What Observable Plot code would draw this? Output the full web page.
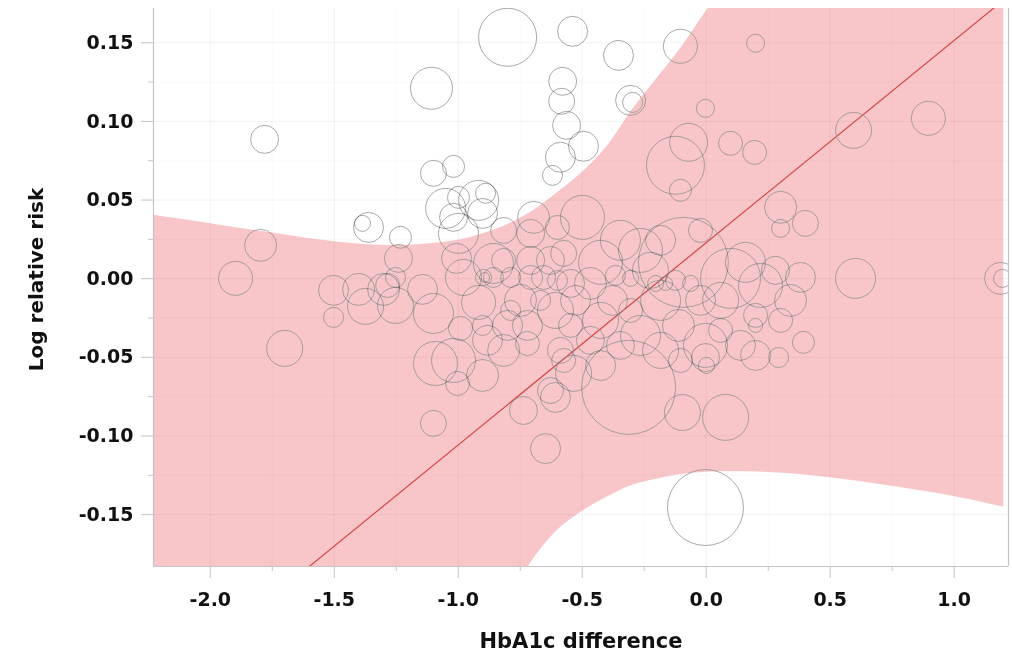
<!DOCTYPE html>
<html>
<head>
<meta charset="utf-8">
<script src="https://cdn.jsdelivr.net/npm/d3@7"></script>
<script src="https://cdn.jsdelivr.net/npm/@observablehq/plot@0.6"></script>
<style>
  html, body { margin: 0; padding: 0; background: #fff; }
  #chart svg text { font-weight: bold; }
</style>
</head>
<body>
<div id="chart"></div>
<script>
// ---- axis setup (data units) ----
const xDomain = [-2.229, 1.219];
const yDomain = [-0.183, 0.1718];
const xTicks = [-2.0, -1.5, -1.0, -0.5, 0.0, 0.5, 1.0];
const xMinor = [-1.75, -1.25, -0.75, -0.25, 0.25, 0.75];
const yTicks = [-0.15, -0.10, -0.05, 0.00, 0.05, 0.10, 0.15];
const yMinor = [-0.125, -0.075, -0.025, 0.025, 0.075, 0.125];
const xLabel = "HbA1c difference";
const yLabel = "Log relative risk";

// ---- regression line (endpoints) ----
const fitX = [-2.229, 1.219];
const fitY = [-0.2638, 0.1797];

// ---- confidence band ----
const bandX  = [-2.229, -2.0, -1.75, -1.5, -1.25, -1.0, -0.9, -0.8, -0.7, -0.6, -0.5, -0.4, -0.3, -0.2, -0.1, 0.0, 0.25, 0.5, 0.75, 1.0, 1.2];
const bandHi = [0.0403, 0.0350, 0.0290, 0.0235, 0.0211, 0.0245, 0.0285, 0.0344, 0.0430, 0.0547, 0.0675, 0.0840, 0.1070, 0.1270, 0.1470, 0.1700, 0.225, 0.28, 0.335, 0.39, 0.43];
const bandLo = [-0.56, -0.50, -0.43, -0.37, -0.31, -0.255, -0.23, -0.205, -0.179, -0.160, -0.148, -0.139, -0.1315, -0.1275, -0.1245, -0.1230, -0.1232, -0.1265, -0.1320, -0.1385, -0.1453];

// ---- studies: HbA1c difference, log relative risk, weight ----
const studyX = [
  -0.801, -0.539, -0.354, -0.104, 0.199, -1.108, -0.579, -0.583, -0.305, -0.297,
  -0.003, -0.563, -0.495, -0.588, -0.620, -1.781, -1.100, -1.019, 0.594, 0.896,
  -0.071, 0.098, 0.195, -0.124, -0.104, 0.300, 0.400, 0.300, -1.051, -0.999,
  -0.890, -0.918, -1.019, -0.902, -0.999, -1.386, -1.362, -1.233, -1.797, -0.817,
  -0.696, -0.708, -0.600, -1.241, -1.898,
  0.602, 1.187, 1.195,
  0.392, 0.292, 0.199, 0.078, -0.096, -0.313, -0.003, -0.648, -0.737, -1.100,
  -1.700, -0.608, -0.628, -0.535, -0.575,
  -1.503, -1.503, -1.402, -1.374, -1.301, -1.253, -1.253, -1.285, -1.144, -1.100,
  -1.092, -1.019, -1.003, -0.991, -0.979, -0.902, -0.898, -0.894, -0.918, -0.902,
  -0.882, -0.817, -0.801, -0.721, -0.721, -0.858, -0.789, -0.708, -0.656, -0.600,
  -0.547, -0.708, -0.817, -0.628, -0.575, -0.858, -1.007,
  -0.092, 0.098, 0.158, 0.219, 0.279, 0.340, 0.380, 0.300, 0.199, 0.199,
  0.058, -0.023, -0.003, -0.003, 0.001, -0.112, -0.184, -0.225, -0.265, -0.346,
  -0.426, -0.467, -0.378, -0.305, -0.426, -0.527, -0.265, -0.346, -0.184, -0.104,
  -0.467, -0.547, -0.608, -0.588, -0.426, -0.204, -0.164, -0.124, -0.063, 0.058,
  0.138, -0.184, -0.023, -0.366, -0.305, -0.668, -0.749, -0.789,
  -0.499
];
const studyY = [
  0.1535, 0.1573, 0.1420, 0.1478, 0.1497, 0.1211, 0.1255, 0.1128, 0.1134, 0.1121,
  0.1083, 0.0975, 0.0842, 0.0772, 0.0657, 0.0886, 0.0670, 0.0714, 0.0943, 0.1020,
  0.0867, 0.0861, 0.0803, 0.0721, 0.0562, 0.0454, 0.0352, 0.0320, 0.0447, 0.0517,
  0.0543, 0.0498, 0.0390, 0.0415, 0.0288, 0.0352, 0.0326, 0.0263, 0.0212, 0.0307,
  0.0390, 0.0288, 0.0326, 0.0129, 0.0002,
  0.0002, 0.0002, 0.0002,
  -0.0405, -0.0501, -0.0488, -0.0882, -0.0851, -0.0691, -0.1455, -0.1080, -0.0838, -0.0920,
  -0.0443, -0.0755, -0.0711, -0.0602, -0.0520,
  -0.0074, -0.0246, -0.0068, -0.0176, -0.0068, 0.0008, -0.0170, -0.0043, -0.0068, -0.0221,
  -0.0539, -0.0520, -0.0666, -0.0316, 0.0008, -0.0615, 0.0008, 0.0008, -0.0151, -0.0297,
  -0.0392, -0.0456, -0.0297, -0.0297, -0.0412, 0.0008, 0.0008, 0.0008, 0.0008, -0.0011,
  -0.0030, 0.0116, 0.0116, 0.0116, 0.0161, 0.0097, 0.0129,
  0.0104, 0.0002, 0.0104, -0.0043, 0.0053, -0.0138, 0.0008, -0.0265, -0.0233, -0.0297,
  -0.0138, -0.0138, -0.0424, -0.0501, -0.0552, -0.0297, -0.0138, 0.0053, 0.0180, 0.0244,
  0.0104, -0.0030, -0.0138, -0.0202, -0.0265, -0.0138, -0.0361, -0.0424, -0.0456, -0.0520,
  -0.0392, -0.0297, -0.0202, -0.0456, -0.0552, -0.0030, -0.0030, -0.0011, -0.0030, -0.0329,
  -0.0424, 0.0244, 0.0307, 0.0021, 0.0002, -0.0138, -0.0138, -0.0202,
  0.0390
];
const studyW = [
  841, 225, 225, 289, 81, 441, 196, 169, 225, 100,
  81, 196, 225, 225, 100, 196, 169, 121, 324, 289,
  361, 144, 144, 841, 121, 256, 169, 81, 400, 121,
  100, 400, 196, 225, 400, 64, 225, 121, 256, 169,
  256, 196, 144, 196, 289,
  400, 256, 81,
  121, 100, 225, 529, 324, 2209, 1444, 225, 196, 169,
  324, 225, 169, 324, 144,
  225, 100, 256, 324, 256, 100, 324, 144, 225, 400,
  484, 484, 144, 144, 324, 256, 64, 25, 289, 100,
  225, 256, 225, 225, 144, 100, 100, 144, 144, 100,
  196, 196, 144, 196, 169, 400, 225,
  2025, 900, 400, 484, 196, 256, 225, 144, 144, 49,
  324, 225, 484, 196, 64, 256, 400, 324, 484, 400,
  484, 256, 225, 144, 324, 225, 400, 196, 324, 144,
  196, 144, 324, 169, 225, 64, 49, 100, 64, 144,
  225, 225, 144, 100, 64, 100, 256, 100,
  484
];

// ---- tables for the library ----
const band = bandX.map((x, i) => ({x, lo: bandLo[i], hi: bandHi[i]}));
const fit = fitX.map((x, i) => ({x, y: fitY[i]}));
const studies = studyX.map((x, i) => ({x, y: studyY[i], w: studyW[i]}));

const axisGrey = "#c4c4c4";

const chart = Plot.plot({
  width: 1012,
  height: 654,
  marginLeft: 153,
  marginRight: 4,
  marginTop: 8,
  marginBottom: 88,
  style: {fontFamily: "'DejaVu Sans', sans-serif", color: "#111", background: "#fff"},
  x: {domain: xDomain},
  y: {domain: yDomain},
  r: {type: "sqrt", domain: [0, 2500], range: [0, 50]},
  marks: [
    Plot.areaY(band, {x: "x", y1: "lo", y2: "hi", fill: "#f8c6c8", curve: "catmull-rom", clip: true}),
    Plot.gridX(xMinor, {stroke: "#000", strokeOpacity: 0.025}),
    Plot.gridY(yMinor, {stroke: "#000", strokeOpacity: 0.025}),
    Plot.gridX(xTicks, {stroke: "#000", strokeOpacity: 0.05}),
    Plot.gridY(yTicks, {stroke: "#000", strokeOpacity: 0.05}),
    Plot.line(fit, {x: "x", y: "y", stroke: "#d4484a", strokeWidth: 1.2, clip: true}),
    Plot.dot(studies, {x: "x", y: "y", r: "w", stroke: "#929292", strokeWidth: 0.8, fill: "none", mixBlendMode: "multiply", clip: true}),
    Plot.ruleX([xDomain[0], xDomain[1]], {stroke: axisGrey, strokeWidth: 1.2}),
    Plot.ruleY([yDomain[0]], {stroke: axisGrey, strokeWidth: 1.2}),
    // x axis ticks and labels
    Plot.axisX(xTicks, {tickSize: 12, stroke: axisGrey, tickFormat: () => "", label: null}),
    Plot.axisX(xMinor, {tickSize: 5, stroke: axisGrey, tickFormat: () => "", label: null}),
    Plot.axisX(xTicks, {tickSize: 0, tickPadding: 26, tickFormat: d => d.toFixed(1), fontSize: 19, label: null}),
    // y axis ticks and labels
    Plot.axisY(yTicks, {tickSize: 12, stroke: axisGrey, tickFormat: () => "", label: null}),
    Plot.axisY(yMinor, {tickSize: 5, stroke: axisGrey, tickFormat: () => "", label: null}),
    Plot.axisY(yTicks, {tickSize: 0, tickPadding: 20, tickFormat: d => d.toFixed(2), fontSize: 19, label: null}),
    // axis titles
    Plot.text([xLabel], {text: d => d, frameAnchor: "bottom", dy: 67, lineAnchor: "top", fontSize: 21}),
    Plot.text([yLabel], {text: d => d, frameAnchor: "left", textAnchor: "middle", dx: -117, dy: -8, rotate: -90, fontSize: 20})
  ]
});
document.getElementById("chart").appendChild(chart);
</script>
</body>
</html>
